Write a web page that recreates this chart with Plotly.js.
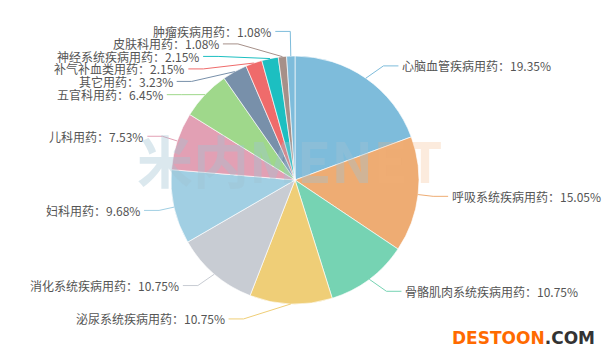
<!DOCTYPE html>
<html>
<head>
<meta charset="utf-8">
<script src="https://cdn.plot.ly/plotly-3.0.1.min.js"></script>
<style>html,body{margin:0;padding:0;background:#fff;}#chart{width:612px;height:360px;}</style>
</head>
<body>
<div id="chart"></div>
<script>
// ---- data ----
const categories = ['心脑血管疾病用药','呼吸系统疾病用药','骨骼肌肉系统疾病用药','泌尿系统疾病用药','消化系统疾病用药','妇科用药','儿科用药','五官科用药','其它用药','补气补血类用药','神经系统疾病用药','皮肤科用药','肿瘤疾病用药'];
const shares = [19.35, 15.05, 10.75, 10.75, 10.75, 9.68, 7.53, 6.45, 3.23, 2.15, 2.15, 1.08, 1.08];
const palette = ['#7ebcdb','#eeac73','#76d3b3','#efce77','#c8ccd3','#a1cfe3','#e2a0b4','#9fd88b','#7890aa','#ef6b6b','#1cbfc1','#a69089'];

// ---- geometry ----
const W = 612, H = 360;
const cx = 295, cy = 180, R = 124, L1 = 15, L2 = 15, TH = 12.5;
const colors = categories.map((c, i) => palette[i % palette.length]);
const total = shares.reduce((a, b) => a + b, 0);

// label layout (ECharts-like)
let cum = 0;
const items = shares.map((v, i) => {
  const mid = (cum + v / 2) / total * 2 * Math.PI;
  cum += v;
  const dx = Math.sin(mid), dy = -Math.cos(mid);
  const dir = dx < 0 ? -1 : 1;
  const x1 = cx + R * dx, y1 = cy + R * dy;
  const x2 = cx + (R + L1) * dx, y2 = cy + (R + L1) * dy;
  return {i, dir, x1, y1, x2, y2, x3: x2 + dir * L2, y: y2};
});

function adjustSide(list) {
  list.sort((a, b) => a.y - b.y);
  const len = list.length;
  function shiftUp(end, delta) {
    for (let j = end; j >= 0; j--) {
      if (list[j].y - delta < 0) break;
      list[j].y -= delta;
      if (j > 0 && list[j].y > list[j - 1].y + TH) break;
    }
  }
  function shiftDown(start, end, delta) {
    for (let j = start; j < end; j++) {
      if (list[j].y + delta > H) break;
      list[j].y += delta;
      if (j > start && j + 1 < end && list[j + 1].y > list[j].y + TH) {
        shiftUp(j, delta / 2);
        return;
      }
    }
    shiftUp(end - 1, delta / 2);
  }
  let lastY = 0;
  for (let i = 0; i < len; i++) {
    const d = list[i].y - lastY;
    if (d < 0) shiftDown(i, len, -d);
    lastY = list[i].y + TH;
  }
  list.forEach(it => {
    const ddy = Math.abs(it.y - cy);
    const rr = R + L1 + L2;
    const ddx = ddy < R + L1 ? Math.sqrt(rr * rr - ddy * ddy) : Math.abs(it.x3 - cx);
    it.x3 = cx + it.dir * ddx;
    it.xe = it.x3 - it.dir * L2;
  });
}
adjustSide(items.filter(it => it.dir < 0));
adjustSide(items.filter(it => it.dir > 0));

const px = x => x / W, py = y => 1 - y / H;

const shapes = items.map(it => ({
  type: 'path', xref: 'paper', yref: 'paper',
  path: `M ${px(it.x1)} ${py(it.y1)} L ${px(it.xe)} ${py(it.y)} L ${px(it.x3)} ${py(it.y)}`,
  line: {color: colors[it.i], width: 1}
}));

const annotations = items.map(it => ({
  xref: 'paper', yref: 'paper',
  x: px(it.x3 + it.dir * 3), y: py(it.y),
  xanchor: it.dir < 0 ? 'right' : 'left', yanchor: 'middle',
  borderpad: 0,
  text: categories[it.i] + '：' + shares[it.i].toFixed(2) + '%',
  showarrow: false,
  font: {family: 'Noto Sans CJK SC, sans-serif', size: 12, color: '#555'}
}));

// watermark texts
annotations.push({
  xref: 'paper', yref: 'paper', x: px(290), y: py(158), xanchor: 'center', yanchor: 'middle',
  showarrow: false,
  text: '<b><span style="color:rgba(160,195,210,0.38)">米内MEN</span><span style="color:rgba(245,175,120,0.25)">ET</span></b>',
  font: {family: 'Noto Sans CJK SC, DejaVu Sans, sans-serif', size: 56}
});
annotations.push({
  xref: 'paper', yref: 'paper', x: px(597), y: py(338), xanchor: 'right', yanchor: 'middle',
  showarrow: false,
  text: '<b><span style="color:#ff6a00">DESTOON</span><span style="color:#333">.COM</span></b>',
  font: {family: 'DejaVu Sans, sans-serif', size: 17}
});

const trace = {
  type: 'pie',
  labels: categories,
  values: shares,
  sort: false,
  direction: 'clockwise',
  rotation: 0,
  textinfo: 'none',
  hoverinfo: 'label+percent',
  marker: {colors: colors, line: {color: 'rgba(255,255,255,0.8)', width: 0.8}},
  domain: {x: [px(cx - R), px(cx + R)], y: [py(cy + R), py(cy - R)]},
  showlegend: false
};

Plotly.newPlot('chart', [trace], {
  width: W, height: H,
  margin: {l: 0, r: 0, t: 0, b: 0},
  paper_bgcolor: '#fff',
  showlegend: false,
  shapes: shapes,
  annotations: annotations
}, {displayModeBar: false, staticPlot: true});
</script>
</body>
</html>
